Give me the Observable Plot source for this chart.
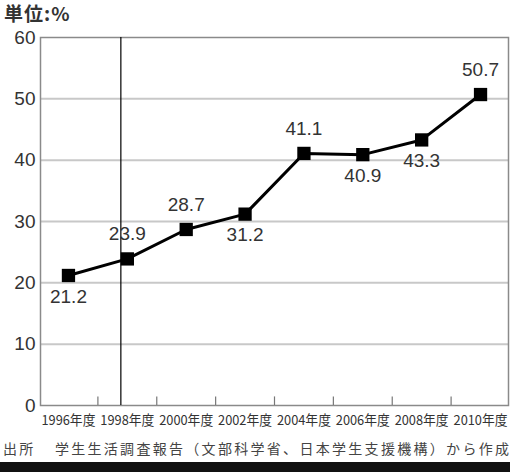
<!DOCTYPE html>
<html><head><meta charset="utf-8">
<script src="https://cdn.jsdelivr.net/npm/d3@7"></script>
<script src="https://cdn.jsdelivr.net/npm/@observablehq/plot@0.6"></script>
<style>
body{margin:0;background:#fff;width:510px;height:472px;overflow:hidden;font-family:"Noto Sans CJK JP","Liberation Sans",sans-serif;}
#title{height:29px;line-height:26px;font-size:19px;font-weight:bold;color:#333;padding-left:4px;letter-spacing:1px;}
#chart{margin-top:-7px;height:410px;}
#caption{height:30px;line-height:32px;font-size:14px;color:#444;padding-left:3px;letter-spacing:2.3px;white-space:nowrap;}
#caption span{margin-right:3px;}
#band{height:10px;background:#111;}
</style></head>
<body>
<div id="title">単位:%</div>
<div id="chart"></div>
<div id="caption"><span>出所</span>　学生生活調査報告（文部科学省、日本学生支援機構）から作成</div>
<div id="band"></div>
<script>
const years = [1996, 1998, 2000, 2002, 2004, 2006, 2008, 2010];
const rates = [21.2, 23.9, 28.7, 31.2, 41.1, 40.9, 43.3, 50.7];
const labelAbove = [false, true, true, false, true, false, false, true];
const yTicks = [0, 10, 20, 30, 40, 50, 60];
const gridValues = [10, 20, 30, 40, 50];
const minorTickYears = [1997, 1999, 2001, 2003, 2005, 2007, 2009];
const markerYear = 1997.78;
const yearSuffix = "年度";

const data = years.map((y, i) => ({year: y, rate: rates[i], above: labelAbove[i]}));

const chart = Plot.plot({
  width: 510,
  height: 410,
  marginLeft: 40,
  marginRight: 2,
  marginTop: 15,
  marginBottom: 27,
  x: {domain: [1995.05, 2010.95], axis: null},
  y: {domain: [0, 60], ticks: yTicks, tickSize: 0, tickPadding: 5, label: null, tickFormat: d => d},
  style: {fontFamily: "'Liberation Sans', Arial, sans-serif", color: "#333", background: "transparent"},
  marks: [
    Plot.ruleY(gridValues, {stroke: "#c8c8c8", strokeWidth: 2}),
    Plot.frame({stroke: "#8a8a8a", strokeWidth: 1.5}),
    Plot.ruleX(minorTickYears, {y1: 0, y2: 1.4, stroke: "#777", strokeWidth: 1.2}),
    Plot.ruleX([markerYear], {y1: 0, y2: 60, stroke: "#000", strokeWidth: 1.2}),
    Plot.axisY({ticks: yTicks, tickSize: 0, tickPadding: 5, fontSize: 19, fill: "#333", label: null}),
    Plot.line(data, {x: "year", y: "rate", stroke: "#000", strokeWidth: 3}),
    Plot.dot(data, {x: "year", y: "rate", symbol: "square", r: 7.5, fill: "#000", stroke: "none"}),
    Plot.text(data.filter(d => d.above), {x: "year", y: "rate", text: d => d.rate.toFixed(1), dy: -25, fontSize: 19, fill: "#333"}),
    Plot.text(data.filter(d => !d.above), {x: "year", y: "rate", text: d => d.rate.toFixed(1), dy: 21, fontSize: 19, fill: "#333"}),
    Plot.text(years, {x: d => d, y: 0, text: d => d + yearSuffix, dy: 15, fontSize: 13.5, fill: "#333", fontFamily: "'Noto Sans CJK JP', sans-serif"})
  ]
});
// condense the year labels horizontally, as in the reference
chart.querySelectorAll("text").forEach(t => {
  if (t.textContent.endsWith(yearSuffix)) {
    t.setAttribute("textLength", 54);
    t.setAttribute("lengthAdjust", "spacingAndGlyphs");
  }
});
document.getElementById("chart").appendChild(chart);
</script>
</body></html>
